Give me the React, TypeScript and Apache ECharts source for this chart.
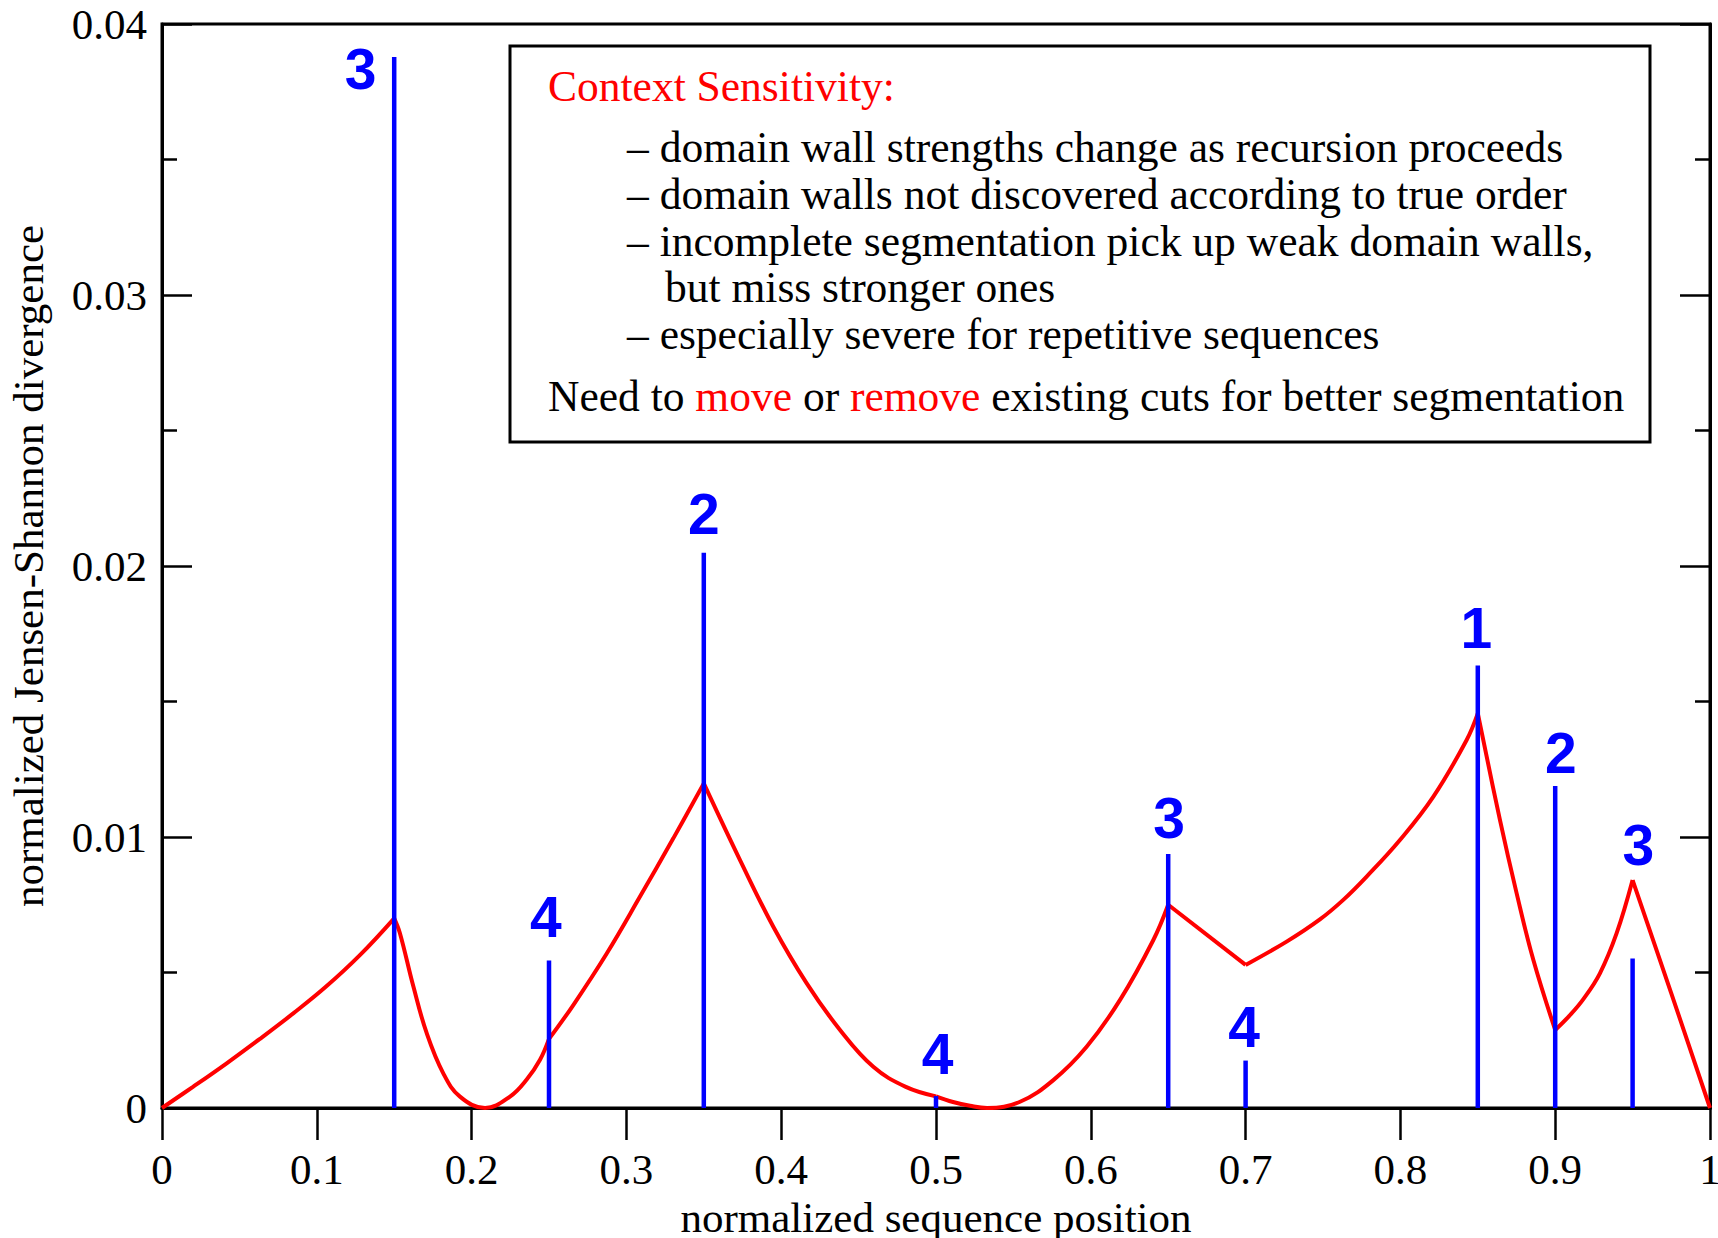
import React, { useEffect, useRef } from 'react';
import * as echarts from 'echarts';

// ---- Data ----
// Red curve: normalized Jensen-Shannon divergence, one piece between consecutive cuts
const seg01: [number, number][] = [[0, 0], [0.02, 0.00078], [0.042, 0.00166], [0.063, 0.00254], [0.085, 0.0035], [0.106, 0.00448], [0.128, 0.00565], [0.15, 0.007]];
const seg02: [number, number][] = [[0.15, 0.007], [0.1537, 0.00645], [0.1624, 0.00448], [0.171, 0.00276], [0.1817, 0.00128], [0.1925, 0.00042], [0.2087, 0.0], [0.2248, 0.00042], [0.2356, 0.00105], [0.2442, 0.00178], [0.25, 0.00255]];
const seg03: [number, number][] = [[0.25, 0.00255], [0.2657, 0.0038], [0.2873, 0.0057], [0.3088, 0.0078], [0.3303, 0.00995], [0.35, 0.01198]];
const seg04: [number, number][] = [[0.35, 0.01198], [0.3734, 0.00915], [0.3949, 0.00669], [0.4165, 0.0046], [0.438, 0.00288], [0.4595, 0.00152], [0.4805, 0.00078], [0.5, 0.00043]];
const seg05: [number, number][] = [[0.5, 0.00043], [0.511, 0.00022], [0.522, 0.00008], [0.533, 0.0], [0.5543, 0.00023], [0.5758, 0.00103], [0.5973, 0.00226], [0.6189, 0.00399], [0.6404, 0.0062], [0.65, 0.0075]];
const seg06: [number, number][] = [[0.65, 0.0075], [0.7, 0.00528]];
const seg07: [number, number][] = [[0.7, 0.00528], [0.7265, 0.00614], [0.748, 0.00696], [0.7631, 0.00768], [0.7782, 0.00854], [0.7997, 0.00989], [0.8213, 0.01149], [0.8428, 0.01358], [0.85, 0.01456]];
const seg08: [number, number][] = [[0.85, 0.01456], [0.8643, 0.01063], [0.8751, 0.00792], [0.8859, 0.00546], [0.9, 0.00288]];
const seg09: [number, number][] = [[0.9, 0.00288], [0.9091, 0.0034], [0.9182, 0.00402], [0.9289, 0.00497], [0.9397, 0.00645], [0.95, 0.00841]];
const seg10: [number, number][] = [[0.95, 0.00841], [0.975, 0.00423], [1, 0]];
const curveSegments = [seg01, seg02, seg03, seg04, seg05, seg06, seg07, seg08, seg09, seg10];

// Blue cuts: position and strength
const cutPositions = [0.15, 0.25, 0.35, 0.5, 0.65, 0.7, 0.85, 0.9, 0.95];
const cutStrengths = [0.03878, 0.00544, 0.02049, 0.00044, 0.00937, 0.00175, 0.01633, 0.01188, 0.00552];
// Recursion level labels and where they sit (data units)
const cutRanks = ['3', '4', '2', '4', '3', '4', '1', '2', '3'];
const rankLabelX = [0.1283, 0.2479, 0.35, 0.501, 0.6506, 0.699, 0.849, 0.9036, 0.9537];
const rankLabelY = [0.03834, 0.00703, 0.02192, 0.002, 0.0107, 0.00299, 0.0177, 0.0131, 0.0097];

// Text box content
const boxTitle = 'Context Sensitivity:';
const boxBullets = [
  '\u2013 domain wall strengths change as recursion proceeds',
  '\u2013 domain walls not discovered according to true order',
  '\u2013 incomplete segmentation pick up weak domain walls,',
  '',
  '\u2013 especially severe for repetitive sequences',
];
const boxContinuation = 'but miss stronger ones';
const boxFooter = [
  ['Need to ', 'k'],
  ['move', 'r'],
  [' or ', 'k'],
  ['remove', 'r'],
  [' existing cuts for better segmentation', 'k'],
];

const xName = 'normalized sequence position';
const yName = 'normalized Jensen-Shannon divergence';

const SERIF = "'Liberation Serif', 'Times New Roman', Times, serif";
const SANS = "'Liberation Sans', Arial, Helvetica, sans-serif";
const BOX_FONT = `43.5px ${SERIF}`;

export default function App() {
  const ref = useRef<HTMLDivElement>(null);

  useEffect(() => {
    if (!ref.current) return;
    const chart = echarts.init(ref.current, undefined, { renderer: 'svg' });

    const axisLineStyle = { color: '#000', width: 3 };
    const tickStyle = { color: '#000', width: 2.5 };

    const redSeries = curveSegments.map((seg) => ({
      type: 'line',
      data: seg,
      smooth: 0.4,
      symbol: 'none',
      silent: true,
      lineStyle: { color: '#ff0000', width: 4 },
      z: 2,
    }));

    const bulletY = [147, 194, 240.5, 287, 334];
    const graphics: any[] = [
      {
        type: 'rect',
        shape: { x: 510, y: 46, width: 1140, height: 396 },
        style: { fill: '#fff', stroke: '#000', lineWidth: 3 },
        z: 10,
      },
      {
        type: 'text',
        x: 548,
        y: 86,
        z: 11,
        style: { text: boxTitle, font: BOX_FONT, fill: '#ff0000', align: 'left', verticalAlign: 'middle' },
      },
      {
        type: 'text',
        x: 665,
        y: bulletY[3],
        z: 11,
        style: { text: boxContinuation, font: BOX_FONT, fill: '#000', align: 'left', verticalAlign: 'middle' },
      },
      {
        type: 'text',
        x: 548,
        y: 395.5,
        z: 11,
        style: {
          text: boxFooter.map(([t, k]) => `{${k}|${t}}`).join(''),
          font: BOX_FONT,
          align: 'left',
          verticalAlign: 'middle',
          rich: {
            k: { fill: '#000', font: BOX_FONT },
            r: { fill: '#ff0000', font: BOX_FONT },
          },
        },
      },
    ];
    boxBullets.forEach((b, i) => {
      if (!b) return;
      graphics.push({
        type: 'text',
        x: 627,
        y: bulletY[i],
        z: 11,
        style: { text: b, font: BOX_FONT, fill: '#000', align: 'left', verticalAlign: 'middle' },
      });
    });

    const option: any = {
      animation: false,
      backgroundColor: '#fff',
      grid: {
        left: 162,
        right: 8,
        top: 24,
        bottom: 130,
        containLabel: false,
        outerBoundsMode: 'none',
        show: true,
        borderColor: '#000',
        borderWidth: 3,
        backgroundColor: 'transparent',
      },
      xAxis: {
        type: 'value',
        min: 0,
        max: 1,
        interval: 0.1,
        name: xName,
        nameLocation: 'middle',
        nameGap: 81,
        nameTextStyle: { fontFamily: SERIF, fontSize: 43, color: '#000' },
        axisLine: { show: true, onZero: false, lineStyle: axisLineStyle },
        axisTick: { show: true, inside: false, length: 32, lineStyle: tickStyle },
        axisLabel: { show: true, margin: 40, fontFamily: SERIF, fontSize: 43, color: '#000' },
        splitLine: { show: false },
      },
      yAxis: [
        {
          type: 'value',
          min: 0,
          max: 0.04,
          interval: 0.01,
          position: 'left',
          name: yName,
          nameLocation: 'middle',
          nameGap: 112,
          nameTextStyle: { fontFamily: SERIF, fontSize: 43, color: '#000' },
          axisLine: { show: true, onZero: false, lineStyle: axisLineStyle },
          axisTick: { show: true, inside: true, length: 30, lineStyle: tickStyle },
          minorTick: { show: true, splitNumber: 2, length: 15, lineStyle: tickStyle },
          axisLabel: { show: true, margin: 15, fontFamily: SERIF, fontSize: 43, color: '#000' },
          splitLine: { show: false },
          minorSplitLine: { show: false },
        },
        {
          type: 'value',
          min: 0,
          max: 0.04,
          interval: 0.01,
          position: 'right',
          axisLine: { show: true, onZero: false, lineStyle: axisLineStyle },
          axisTick: { show: true, inside: true, length: 30, lineStyle: tickStyle },
          minorTick: { show: true, splitNumber: 2, length: 15, lineStyle: tickStyle },
          axisLabel: { show: false },
          splitLine: { show: false },
          minorSplitLine: { show: false },
        },
      ],
      series: [
        ...redSeries,
        {
          type: 'custom',
          silent: true,
          z: 3,
          data: cutPositions.map((x, i) => [x, cutStrengths[i]]),
          renderItem: (params: any, api: any) => {
            const x = api.value(0);
            const h = api.value(1);
            const p0 = api.coord([x, 0]);
            const p1 = api.coord([x, h]);
            return {
              type: 'line',
              shape: { x1: p0[0], y1: p0[1], x2: p1[0], y2: p1[1] },
              style: { stroke: '#0000ff', lineWidth: 4.5 },
            };
          },
        },
        {
          type: 'custom',
          silent: true,
          z: 4,
          data: rankLabelX.map((x, i) => [x, rankLabelY[i], i]),
          renderItem: (params: any, api: any) => {
            const p = api.coord([api.value(0), api.value(1)]);
            const idx = api.value(2);
            return {
              type: 'text',
              x: p[0],
              y: p[1],
              style: {
                text: cutRanks[idx],
                font: `bold 57px ${SANS}`,
                fill: '#0000ff',
                align: 'center',
                verticalAlign: 'middle',
              },
            };
          },
        },
      ],
      graphic: graphics,
    };

    chart.setOption(option);
    return () => chart.dispose();
  }, []);

  return (
    <div
      ref={ref}
      style={{ position: 'absolute', left: 0, top: 0, width: 1718, height: 1238 }}
    />
  );
}
